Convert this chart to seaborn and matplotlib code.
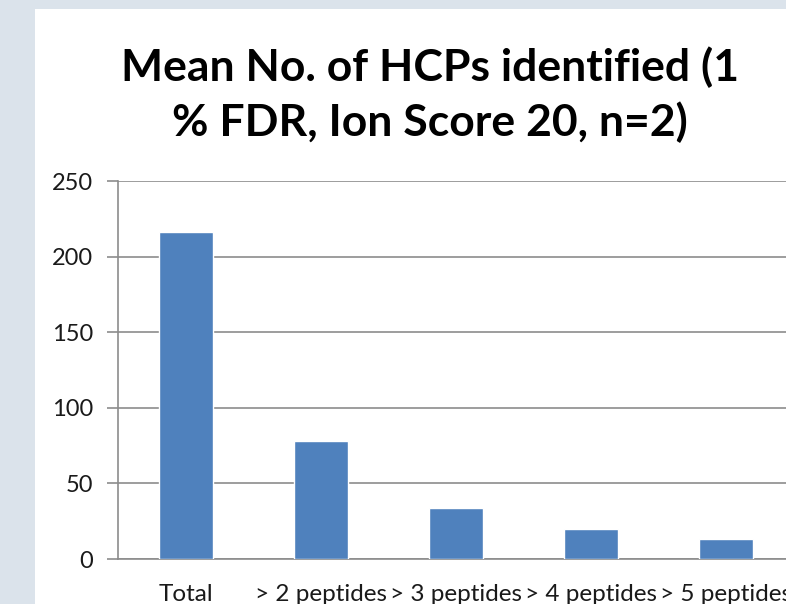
import matplotlib
matplotlib.use("Agg")
import matplotlib.pyplot as plt
import seaborn as sns
import pandas as pd
from matplotlib.patches import Rectangle

# data
categories = ["Total", "> 2 peptides", "> 3 peptides", "> 4 peptides", "> 5 peptides"]
mean_hcps = [216, 78, 34, 20, 13]
y_ticks = [0, 50, 100, 150, 200, 250]

title_text = "Mean No. of HCPs identified (1\n% FDR, Ion Score 20, n=2)"

bar_color = "#4f81bd"
grid_color = "#8c8c8c"
border_color = "#dbe3eb"

sns.set_theme(style="white")
plt.rcParams["font.family"] = ["Lato", "DejaVu Sans"]

df = pd.DataFrame({"category": categories, "value": mean_hcps})

fig = plt.figure(figsize=(7.86, 6.04), dpi=100)
fig.patch.set_facecolor(border_color)
fig.patches.append(Rectangle((35 / 786, 0), 1, (604 - 9) / 604,
                             transform=fig.transFigure, facecolor="white",
                             edgecolor="none", zorder=-10))

# axes runs past the right edge like in the original screenshot
ax = fig.add_axes([118 / 786, 45 / 604, 675 / 786, 378 / 604])
ax.set_facecolor("white")

sns.barplot(data=df, x="category", y="value", color=bar_color, width=0.4,
            saturation=1, ax=ax, zorder=3)

ax.set_ylim(0, 250)
ax.set_xlim(-0.5, len(categories) - 0.5)
ax.set_yticks(y_ticks)
ax.yaxis.grid(True, color=grid_color, linewidth=1.2)
ax.set_axisbelow(True)
ax.set_xlabel("")
ax.set_ylabel("")

for side in ["top", "right"]:
    ax.spines[side].set_visible(False)
for side in ["left", "bottom"]:
    ax.spines[side].set_color(grid_color)
    ax.spines[side].set_linewidth(1.2)

# x ticks sit between categories
ax.set_xticks(range(len(categories)))
ax.set_xticklabels(categories)
ax.set_xticks([i - 0.5 for i in range(len(categories) + 1)], minor=True)
ax.tick_params(axis="x", which="major", length=0, pad=18, labelsize=17.5, labelcolor="#1a1a1a")
ax.tick_params(axis="x", which="minor", length=8, width=1.2, color=grid_color, direction="out")
ax.tick_params(axis="y", length=8, width=1.2, color=grid_color, direction="out",
               pad=10, labelsize=17, labelcolor="#1a1a1a", left=True)

fig.text(430 / 786, 1 - 95 / 604, title_text, ha="center", va="center",
         fontsize=32, fontweight="bold", linespacing=1.38, color="black")

fig.savefig("out.png", dpi=100, facecolor=fig.get_facecolor())
